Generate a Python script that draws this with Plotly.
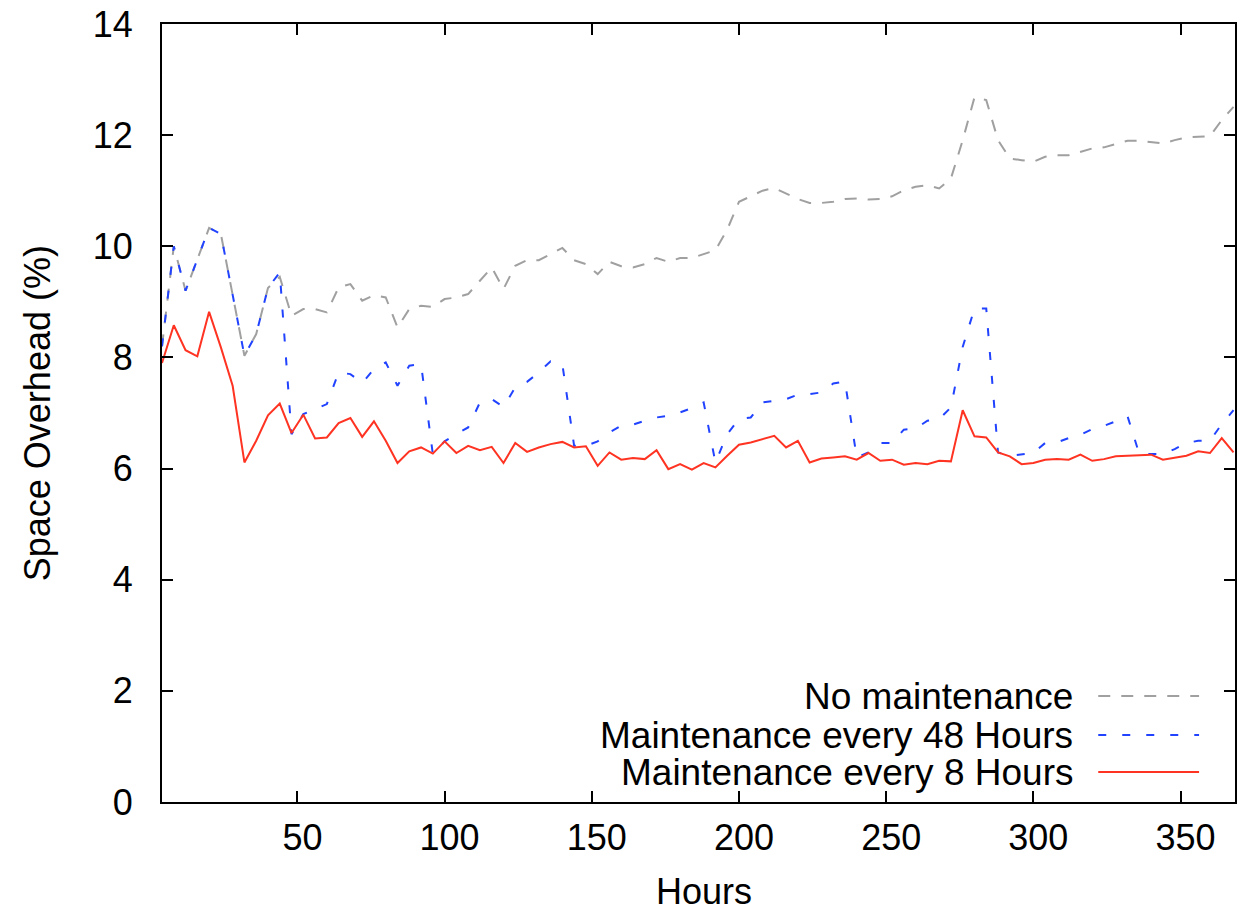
import plotly.graph_objects as go

hours = [4, 8, 12, 16, 20, 24, 28, 32, 36, 40, 44, 48, 52, 56, 60, 64, 68, 72, 76, 80,
         84, 88, 92, 96, 100, 104, 108, 112, 116, 120, 124, 128, 132, 136, 140, 144, 148, 152, 156, 160,
         164, 168, 172, 176, 180, 184, 188, 192, 196, 200, 204, 208, 212, 216, 220, 224, 228, 232, 236, 240,
         244, 248, 252, 256, 260, 264, 268, 272, 276, 280, 284, 288, 292, 296, 300, 304, 308, 312, 316, 320,
         324, 328, 332, 336, 340, 344, 348, 352, 356, 360, 364, 368]

no_maintenance = [8.2, 10.0, 9.2, 9.75, 10.33, 10.22, 9.1, 8.03, 8.42, 9.25,
                  9.45, 8.75, 8.87, 8.87, 8.81, 9.26, 9.32, 9.02, 9.12, 9.08,
                  8.54, 8.87, 8.93, 8.91, 9.05, 9.08, 9.14, 9.38, 9.62, 9.23,
                  9.65, 9.75, 9.75, 9.86, 9.97, 9.75, 9.68, 9.50, 9.72, 9.64,
                  9.62, 9.68, 9.79, 9.72, 9.79, 9.79, 9.86, 9.93, 10.3, 10.8,
                  10.9, 11.0, 11.05, 10.95, 10.85, 10.78, 10.78, 10.8, 10.85, 10.86,
                  10.84, 10.85, 10.90, 11.01, 11.07, 11.10, 11.04, 11.22, 11.91, 12.68,
                  12.63, 11.91, 11.58, 11.55, 11.52, 11.61, 11.64, 11.64, 11.70, 11.76,
                  11.78, 11.84, 11.90, 11.90, 11.88, 11.85, 11.91, 11.96, 11.97, 11.98,
                  12.27, 12.51]

every_48h = [8.2, 10.0, 9.2, 9.75, 10.33, 10.22, 9.1, 8.03, 8.42, 9.25,
             9.53, 6.62, 6.98, 7.07, 7.16, 7.73, 7.70, 7.54, 7.79, 7.91,
             7.49, 7.85, 7.88, 6.26, 6.49, 6.62, 6.74, 7.19, 7.25, 7.11,
             7.46, 7.56, 7.73, 7.93, 7.88, 6.41, 6.41, 6.49, 6.65, 6.77,
             6.79, 6.86, 6.92, 6.95, 7.01, 7.09, 7.19, 6.11, 6.62, 6.89,
             6.92, 7.19, 7.22, 7.25, 7.33, 7.34, 7.37, 7.53, 7.57, 6.20,
             6.29, 6.46, 6.46, 6.70, 6.72, 6.86, 6.89, 7.10, 8.19, 8.88,
             8.88, 6.29, 6.23, 6.25, 6.28, 6.46, 6.47, 6.55, 6.61, 6.71,
             6.77, 6.85, 6.94, 6.26, 6.26, 6.26, 6.35, 6.46, 6.50, 6.50,
             6.80, 7.05]

every_8h = [7.90, 8.58, 8.13, 8.02, 8.82, 8.18, 7.49, 6.11, 6.50, 6.96,
            7.17, 6.64, 6.97, 6.54, 6.56, 6.82, 6.91, 6.57, 6.85, 6.50,
            6.10, 6.31, 6.38, 6.27, 6.49, 6.28, 6.41, 6.33, 6.39, 6.10,
            6.46, 6.30, 6.38, 6.44, 6.48, 6.38, 6.40, 6.05, 6.29, 6.16,
            6.19, 6.17, 6.33, 5.99, 6.08, 5.98, 6.10, 6.02, 6.23, 6.43,
            6.47, 6.53, 6.59, 6.38, 6.50, 6.11, 6.18, 6.20, 6.22, 6.16,
            6.28, 6.14, 6.16, 6.07, 6.10, 6.08, 6.14, 6.13, 7.05, 6.58,
            6.56, 6.29, 6.22, 6.08, 6.10, 6.16, 6.17, 6.16, 6.25, 6.14,
            6.17, 6.22, 6.23, 6.23, 6.25, 6.16, 6.19, 6.23, 6.31, 6.28,
            6.55, 6.29]

series_names = ["No maintenance", "Maintenance every 48 Hours", "Maintenance every 8 Hours"]
series_values = [no_maintenance, every_48h, every_8h]
series_colors = ["#a0a0a0", "#2143ff", "#ff3322"]
series_dashes = ["12px,11px", "8px,16px", "solid"]

x_ticks = [50, 100, 150, 200, 250, 300, 350]
y_ticks = [0, 2, 4, 6, 8, 10, 12, 14]

FONT = "Liberation Sans, Arial, Helvetica, sans-serif"

fig = go.Figure()
for name, vals, color, dash in zip(series_names, series_values, series_colors, series_dashes):
    fig.add_trace(go.Scatter(x=hours, y=vals, mode="lines", name=name,
                             line=dict(color=color, width=2, dash=dash),
                             showlegend=False, hoverinfo="skip"))

W, H = 1238, 914
ML, MR, MT, MB = 162, 1, 24, 112
PW, PH = W - ML - MR, H - MT - MB

def px(xpix):
    return (xpix - ML) / PW

def py(ypix):
    return (H - MB - ypix) / PH

annotations = [
    dict(text="Hours", x=px(705), y=py(892), xref="paper", yref="paper",
         xanchor="center", yanchor="middle", showarrow=False,
         font=dict(family=FONT, size=36, color="black")),
    dict(text="Space Overhead (%)", x=px(37), y=py(413), xref="paper", yref="paper",
         xanchor="center", yanchor="middle", showarrow=False, textangle=-90,
         font=dict(family=FONT, size=36, color="black")),
]
shapes = []
legend_rows = [696, 735, 772]
for name, color, dash, row in zip(series_names, series_colors, series_dashes, legend_rows):
    annotations.append(dict(text=name, x=px(1077), y=py(row), xref="paper", yref="paper",
                            xanchor="right", yanchor="middle", showarrow=False,
                            font=dict(family=FONT, size=37, color="black")))
    shapes.append(dict(type="line", xref="paper", yref="paper",
                       x0=px(1100), x1=px(1201), y0=py(row), y1=py(row),
                       line=dict(color=color, width=2, dash=dash)))

axis_common = dict(showline=True, linecolor="black", linewidth=2, mirror="ticks",
                   ticks="inside", ticklen=11, tickwidth=1.5, tickcolor="black",
                   showgrid=False, zeroline=False,
                   tickfont=dict(family=FONT, size=36, color="black"))

fig.update_layout(
    width=W, height=H,
    margin=dict(l=ML, r=MR, t=MT, b=MB, pad=0),
    paper_bgcolor="white", plot_bgcolor="white",
    xaxis=dict(range=[4, 368.5], tickvals=x_ticks, ticklabelstandoff=3,
               ticklabelshift=5, **axis_common),
    yaxis=dict(range=[0, 14], tickvals=y_ticks, ticklabelstandoff=20, **axis_common),
    annotations=annotations, shapes=shapes,
    showlegend=False,
)

fig.write_html("out.html", config={"displayModeBar": False})
